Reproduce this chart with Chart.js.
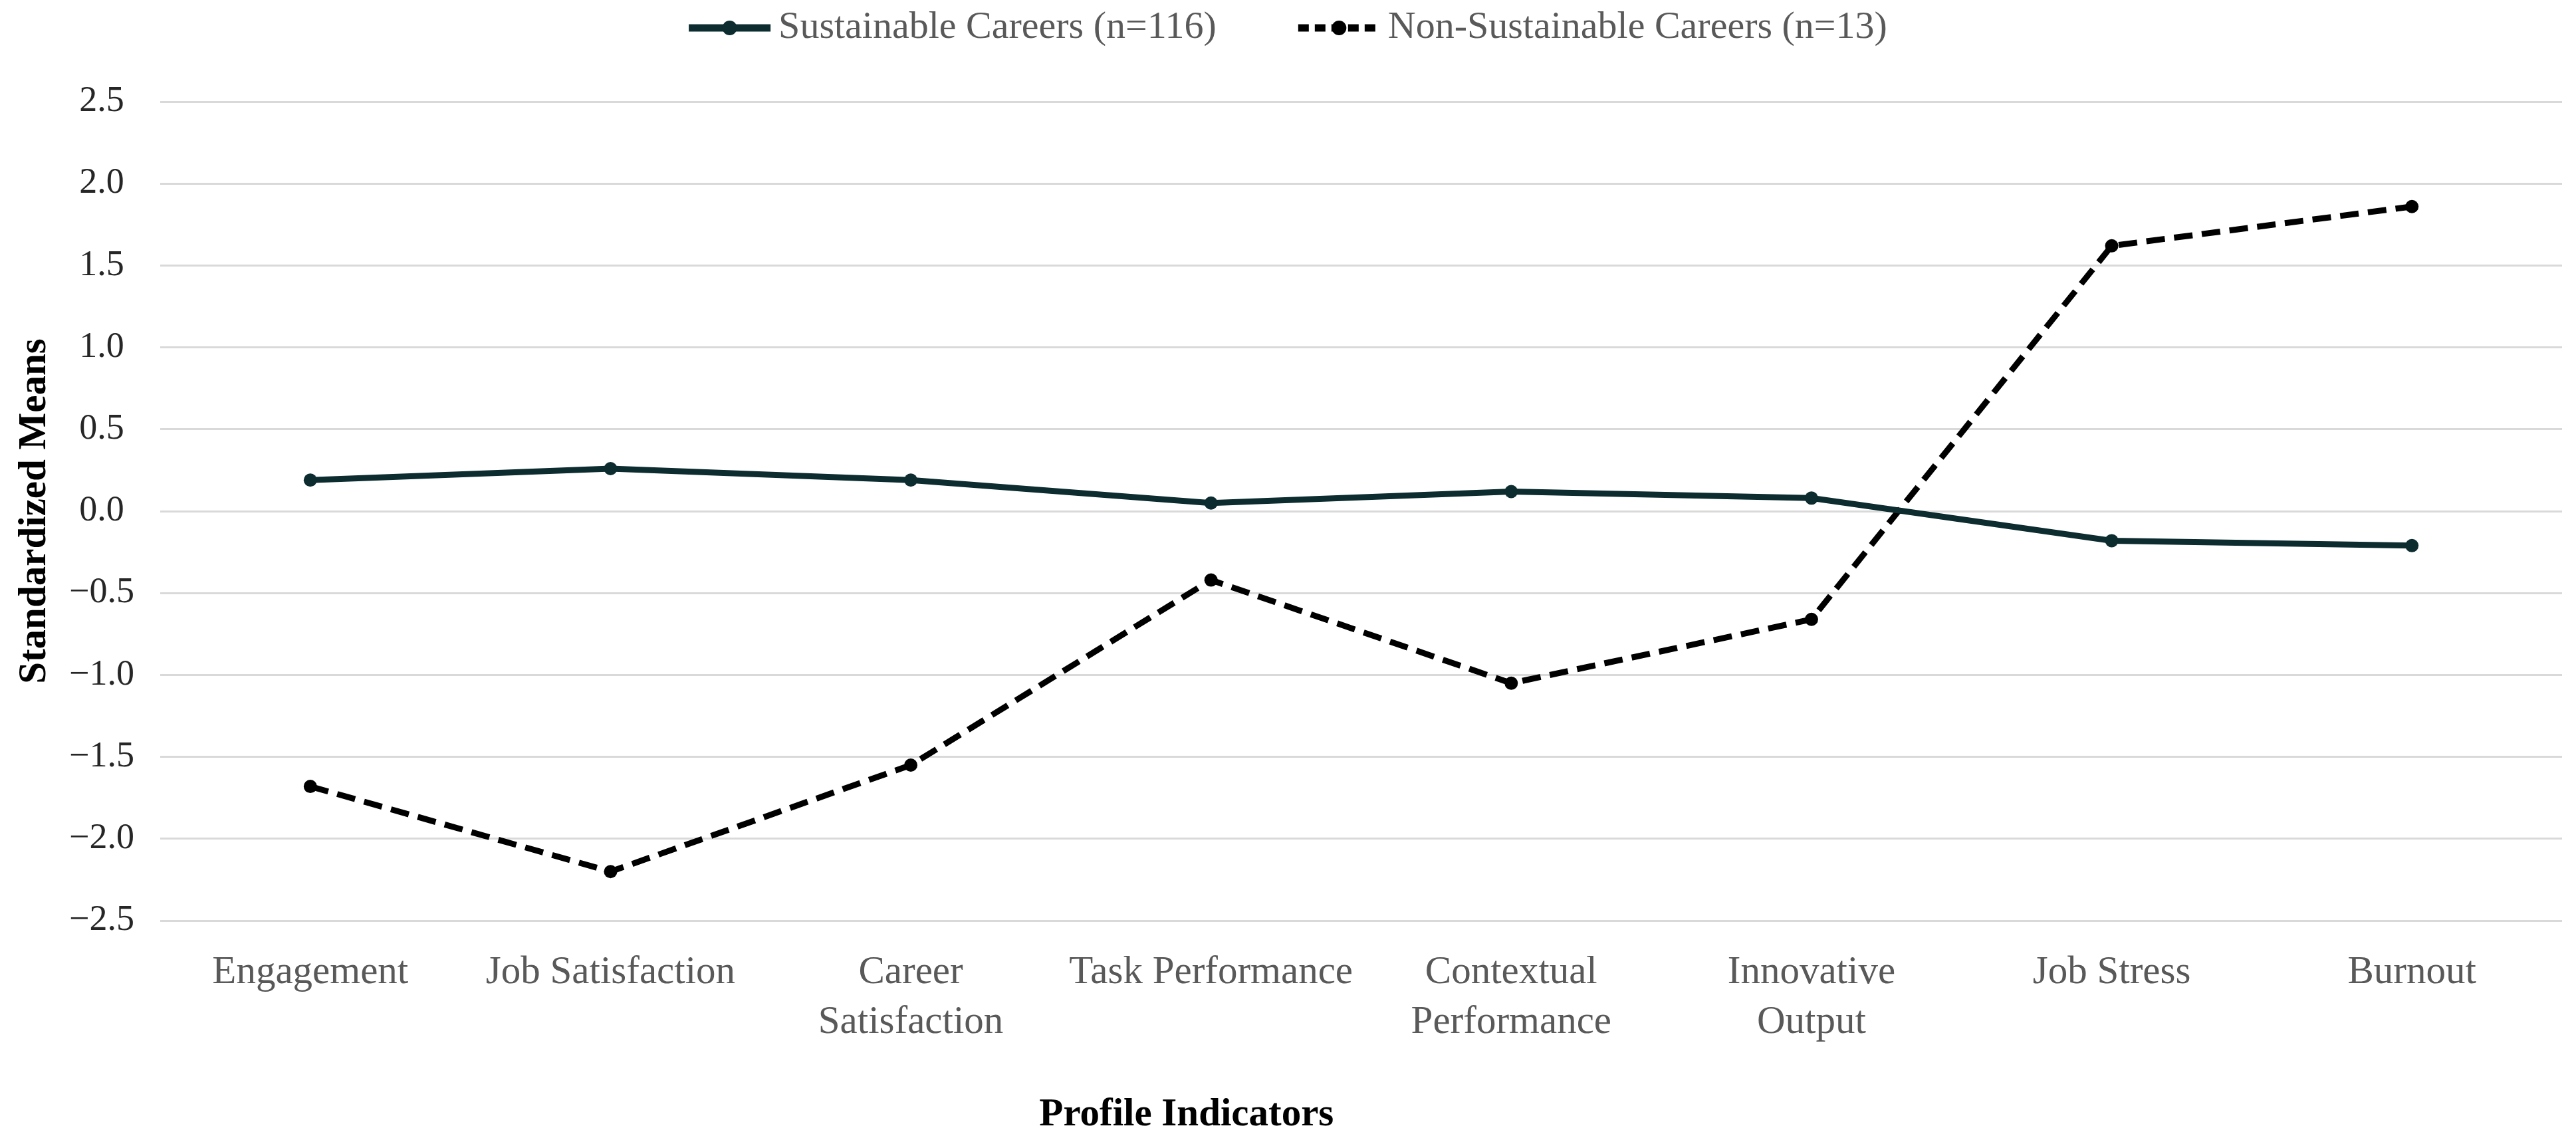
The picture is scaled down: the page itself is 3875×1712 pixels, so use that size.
<!DOCTYPE html>
<html>
<head>
<meta charset="utf-8">
<title>Profile Indicators</title>
<script src="https://cdn.jsdelivr.net/npm/chart.js@4.4.1/dist/chart.umd.min.js"></script>
<style>
    html, body { margin: 0; padding: 0; background: #ffffff; }
    canvas { display: block; }
</style>
</head>
<body>
<canvas id="grafica" width="3875" height="1712"></canvas>
<script>
var categorias = ["Engagement", "Job Satisfaction", ["Career", "Satisfaction"], "Task Performance",
    ["Contextual", "Performance"], ["Innovative", "Output"], "Job Stress", "Burnout"];
var sostenibles = [0.19, 0.26, 0.19, 0.05, 0.12, 0.08, -0.18, -0.21];
var noSostenibles = [-1.68, -2.20, -1.55, -0.42, -1.05, -0.66, 1.62, 1.86];
var nombresSeries = ["Sustainable Careers (n=116)", "Non-Sustainable Careers (n=13)"];
var marcasEjeY = [-2.5, -2.0, -1.5, -1.0, -0.5, 0.0, 0.5, 1.0, 1.5, 2.0, 2.5];
var tituloEjeX = "Profile Indicators";
var tituloEjeY = "Standardized Means";

var fuente = '"Liberation Serif", "Times New Roman", serif';

document.addEventListener("DOMContentLoaded", function () {

    // leyenda propia: linea con punto, como en la figura original
    var leyendaPlugin = {
        id: "leyendaLinea",
        afterDraw: function (chart) {
            var ctx = chart.ctx;
            var conjuntos = chart.data.datasets;
            var muestra = 123, separacion = 12, hueco = 123, y = 42;
            ctx.save();
            ctx.font = "58px " + fuente;
            var anchos = conjuntos.map(function (ds) {
                return muestra + separacion + ctx.measureText(ds.label).width;
            });
            var total = anchos.reduce(function (a, b) { return a + b; }, 0) + hueco * (conjuntos.length - 1);
            var x = (chart.width - total) / 2;
            conjuntos.forEach(function (ds, i) {
                ctx.strokeStyle = ds.borderColor;
                ctx.lineWidth = 11;
                ctx.setLineDash(ds.borderDash ? [16, 9] : []);
                ctx.beginPath();
                ctx.moveTo(x, y);
                ctx.lineTo(x + muestra, y);
                ctx.stroke();
                ctx.setLineDash([]);
                ctx.fillStyle = ds.pointBackgroundColor;
                ctx.beginPath();
                ctx.arc(x + muestra / 2, y, 11, 0, 2 * Math.PI);
                ctx.fill();
                ctx.fillStyle = "#595959";
                ctx.textBaseline = "alphabetic";
                ctx.textAlign = "left";
                ctx.fillText(ds.label, x + muestra + separacion, 57);
                x += anchos[i] + hueco;
            });
            ctx.restore();
        }
    };

    // titulo del eje x, algo a la izquierda del centro como en la figura
    var tituloXPlugin = {
        id: "tituloEjeX",
        afterDraw: function (chart) {
            var ctx = chart.ctx;
            var area = chart.chartArea;
            ctx.save();
            ctx.font = "bold 59px " + fuente;
            ctx.fillStyle = "#000000";
            ctx.textAlign = "center";
            ctx.textBaseline = "alphabetic";
            ctx.fillText(tituloEjeX, area.left + 0.4273 * (area.right - area.left), chart.height - 19);
            ctx.restore();
        }
    };

    var ctx = document.getElementById("grafica").getContext("2d");
    var chart = new Chart(ctx, {
        type: "line",
        plugins: [leyendaPlugin, tituloXPlugin],
        data: {
            labels: categorias,
            datasets: [
                {
                    label: nombresSeries[0],
                    data: sostenibles,
                    borderColor: "#0c2c2f",
                    backgroundColor: "#0c2c2f",
                    pointBackgroundColor: "#0c2c2f",
                    pointBorderColor: "#0c2c2f",
                    pointRadius: 10,
                    pointBorderWidth: 0,
                    borderWidth: 9,
                    tension: 0
                },
                {
                    label: nombresSeries[1],
                    data: noSostenibles,
                    borderColor: "#000000",
                    backgroundColor: "#000000",
                    pointBackgroundColor: "#000000",
                    pointBorderColor: "#000000",
                    pointRadius: 10,
                    pointBorderWidth: 0,
                    borderWidth: 9,
                    borderDash: [28, 14],
                    tension: 0
                }
            ]
        },
        options: {
            responsive: false,
            animation: false,
            layout: {
                padding: { top: 153, right: 21, bottom: 95, left: 4 }
            },
            plugins: {
                legend: { display: false },
                tooltip: { enabled: false }
            },
            scales: {
                x: {
                    offset: true,
                    grid: { display: false, drawTicks: false },
                    border: { display: false },
                    ticks: {
                        autoSkip: false,
                        maxRotation: 0,
                        minRotation: 0,
                        padding: 41,
                        color: "#595959",
                        font: { family: fuente, size: 59, lineHeight: 1.27 }
                    }
                },
                y: {
                    min: -2.5,
                    max: 2.5,
                    afterBuildTicks: function (eje) {
                        eje.ticks = marcasEjeY.map(function (v) { return { value: v }; });
                    },
                    afterFit: function (eje) {
                        eje.width = 237;
                    },
                    grid: { color: "#d9d9d9", lineWidth: 3, drawTicks: false },
                    border: { display: false },
                    ticks: {
                        padding: 39,
                        crossAlign: "center",
                        color: "#262626",
                        font: { family: fuente, size: 54 },
                        callback: function (valor) {
                            return (Math.round(valor * 10) / 10).toFixed(1).replace("-", "\u2212");
                        }
                    },
                    title: {
                        display: true,
                        text: tituloEjeY,
                        color: "#000000",
                        font: { family: fuente, size: 59, weight: "bold", lineHeight: 1.2 },
                        padding: { top: 13, bottom: 16 }
                    }
                }
            }
        }
    });
});
</script>
</body>
</html>
